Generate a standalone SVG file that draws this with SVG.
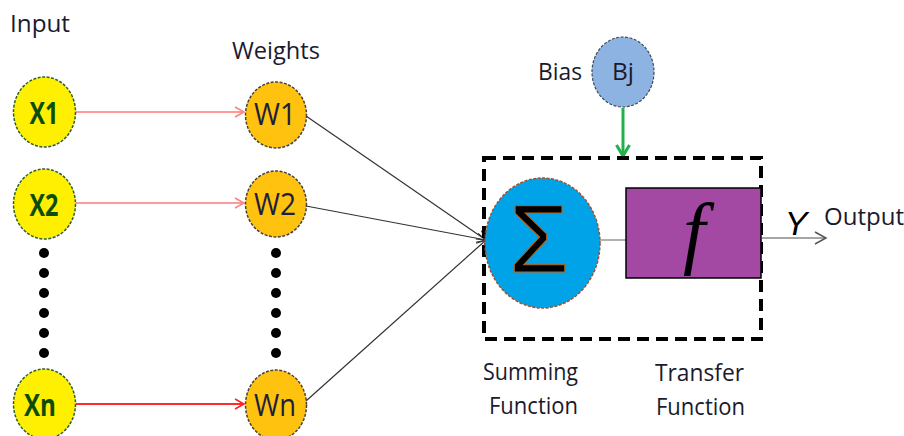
<svg xmlns="http://www.w3.org/2000/svg" width="904" height="436" viewBox="0 0 904 436">
  <defs>
    <marker id="arrPink" markerWidth="12" markerHeight="12" refX="10" refY="6" orient="auto" markerUnits="userSpaceOnUse">
      <path d="M1,1 L10,6 L1,11" fill="none" stroke="#ff8080" stroke-width="1.5"/>
    </marker>
    <marker id="arrRed" markerWidth="12" markerHeight="12" refX="10" refY="6" orient="auto" markerUnits="userSpaceOnUse">
      <path d="M1,1 L10,6 L1,11" fill="none" stroke="#ff2020" stroke-width="1.5"/>
    </marker>
    <marker id="arrBlack" markerWidth="12" markerHeight="12" refX="10" refY="6" orient="auto" markerUnits="userSpaceOnUse">
      <path d="M1,1 L10,6 L1,11" fill="none" stroke="#333" stroke-width="1.2"/>
    </marker>
    <marker id="arrGray" markerWidth="14" markerHeight="14" refX="12" refY="7" orient="auto" markerUnits="userSpaceOnUse">
      <path d="M1,1 L12,7 L1,13" fill="none" stroke="#555" stroke-width="1.5"/>
    </marker>
    <marker id="arrGreen" markerWidth="16" markerHeight="16" refX="13" refY="8" orient="auto" markerUnits="userSpaceOnUse">
      <path d="M2,1.5 L13,8 L2,14.5" fill="none" stroke="#22b04c" stroke-width="3"/>
    </marker>
  </defs>
  <style>
    .lbl { font-family: "Open Sans", "Liberation Sans", sans-serif; font-size: 23px; fill: #1a1a2e; }
    .xnode { fill: #ffef00; stroke: #2f5f2f; stroke-width: 1.5; stroke-dasharray: 3 1.5; }
    .wnode { fill: #ffc20e; stroke: #4a4040; stroke-width: 1.5; stroke-dasharray: 3 1.5; }
    .xtxt { font-family: "Open Sans", "Liberation Sans", sans-serif; font-size: 31px; font-weight: bold; fill: #0c4d0c; text-anchor: middle; }
    .wtxt { font-family: "Open Sans", "Liberation Sans", sans-serif; font-size: 31px; fill: #1e1e40; text-anchor: middle; }
    .dot { fill: #000; }
  </style>

  <!-- titles -->
  <text class="lbl" x="10" y="32" textLength="60" lengthAdjust="spacingAndGlyphs">Input</text>
  <text class="lbl" x="232" y="59" textLength="88" lengthAdjust="spacingAndGlyphs">Weights</text>

  <!-- connectors -->
  <g id="connectors">
    <line x1="76" y1="112" x2="244" y2="112" stroke="#ff9a9a" stroke-width="1.8" marker-end="url(#arrPink)"/>
    <line x1="76" y1="203" x2="244" y2="203" stroke="#ff9a9a" stroke-width="1.8" marker-end="url(#arrPink)"/>
    <line x1="76" y1="404" x2="244" y2="404" stroke="#ff2a2a" stroke-width="1.8" marker-end="url(#arrRed)"/>
    <line x1="306" y1="116" x2="486" y2="240" stroke="#333" stroke-width="1.2" marker-end="url(#arrBlack)"/>
    <line x1="306" y1="206" x2="486" y2="240" stroke="#333" stroke-width="1.2" marker-end="url(#arrBlack)"/>
    <line x1="306" y1="401" x2="486" y2="240" stroke="#333" stroke-width="1.2" marker-end="url(#arrBlack)"/>
    <line x1="600" y1="240" x2="626" y2="240" stroke="#999" stroke-width="1.5"/>
    <line x1="762" y1="238" x2="826" y2="238" stroke="#888" stroke-width="1.5" marker-end="url(#arrGray)"/>
    <line x1="623" y1="108" x2="623" y2="156" stroke="#22b04c" stroke-width="3" marker-end="url(#arrGreen)"/>
  </g>

  <!-- input nodes -->
  <g id="x1"><ellipse class="xnode" cx="44.5" cy="112" rx="31" ry="35"/><text class="xtxt" x="44" y="124" textLength="29" lengthAdjust="spacingAndGlyphs">X1</text></g>
  <g id="x2"><ellipse class="xnode" cx="44.5" cy="204" rx="31" ry="35"/><text class="xtxt" x="44" y="216" textLength="29" lengthAdjust="spacingAndGlyphs">X2</text></g>
  <g id="xn"><ellipse class="xnode" cx="44.5" cy="404" rx="31" ry="35"/><text class="xtxt" x="40" y="416" textLength="32" lengthAdjust="spacingAndGlyphs">Xn</text></g>

  <!-- input ellipsis -->
  <g id="xdots">
    <circle class="dot" cx="44" cy="253" r="5"/>
    <circle class="dot" cx="44" cy="273" r="5"/>
    <circle class="dot" cx="44" cy="293" r="5"/>
    <circle class="dot" cx="44" cy="313" r="5"/>
    <circle class="dot" cx="44" cy="333" r="5"/>
    <circle class="dot" cx="44" cy="353" r="5"/>
  </g>

  <!-- weight nodes -->
  <g id="w1"><ellipse class="wnode" cx="276" cy="115" rx="30.5" ry="33"/><text class="wtxt" x="275" y="125" textLength="42" lengthAdjust="spacingAndGlyphs">W1</text></g>
  <g id="w2"><ellipse class="wnode" cx="276" cy="204" rx="30.5" ry="33"/><text class="wtxt" x="275" y="215" textLength="42" lengthAdjust="spacingAndGlyphs">W2</text></g>
  <g id="wn"><ellipse class="wnode" cx="276" cy="405" rx="30.5" ry="35"/><text class="wtxt" x="275" y="416" textLength="42" lengthAdjust="spacingAndGlyphs">Wn</text></g>

  <!-- weight ellipsis -->
  <g id="wdots">
    <circle class="dot" cx="276" cy="253" r="5"/>
    <circle class="dot" cx="276" cy="273" r="5"/>
    <circle class="dot" cx="276" cy="293" r="5"/>
    <circle class="dot" cx="276" cy="313" r="5"/>
    <circle class="dot" cx="276" cy="333" r="5"/>
    <circle class="dot" cx="276" cy="353" r="5"/>
  </g>

  <!-- bias -->
  <g id="bias">
    <text class="lbl" x="538" y="80" textLength="44" lengthAdjust="spacingAndGlyphs">Bias</text>
    <ellipse cx="623" cy="72" rx="31" ry="35" fill="#8db3e2" stroke="#3a4a5a" stroke-width="1.2" stroke-dasharray="3 1.5"/>
    <text class="lbl" x="612" y="80" font-size="24" textLength="22" lengthAdjust="spacingAndGlyphs">Bj</text>
  </g>

  <!-- neuron box -->
  <g id="neuron">
    <rect x="484" y="158" width="277" height="181" fill="none" stroke="#000" stroke-width="4" stroke-dasharray="12 7"/>
  </g>

  <!-- summing junction -->
  <g id="sum">
    <ellipse cx="542.5" cy="243" rx="57.5" ry="65" fill="#00a2e8" stroke="#a0522d" stroke-width="1.5" stroke-dasharray="3 1.5"/>
    <text x="539" y="272" text-anchor="middle" font-family="Liberation Sans, sans-serif" font-size="96" fill="#000" stroke="#c06010" stroke-width="1">Σ</text>
    <text class="lbl" x="483" y="380" textLength="95" lengthAdjust="spacingAndGlyphs">Summing</text>
    <text class="lbl" x="489" y="414" textLength="89" lengthAdjust="spacingAndGlyphs">Function</text>
  </g>

  <!-- transfer function -->
  <g id="transfer">
    <rect x="626" y="188" width="135" height="90" fill="#a349a4" stroke="#000" stroke-width="1.5"/>
    <text x="694" y="259" text-anchor="middle" font-family="Liberation Serif, serif" font-style="italic" font-size="80" fill="#000">f</text>
    <text class="lbl" x="655" y="381" textLength="89" lengthAdjust="spacingAndGlyphs">Transfer</text>
    <text class="lbl" x="656" y="415" textLength="89" lengthAdjust="spacingAndGlyphs">Function</text>
  </g>

  <!-- output -->
  <g id="output">
    <text x="796" y="235" text-anchor="middle" font-family="Liberation Sans, sans-serif" font-style="italic" font-size="34" fill="#000">Y</text>
    <text class="lbl" x="824" y="225" textLength="80" lengthAdjust="spacingAndGlyphs">Output</text>
  </g>
</svg>
